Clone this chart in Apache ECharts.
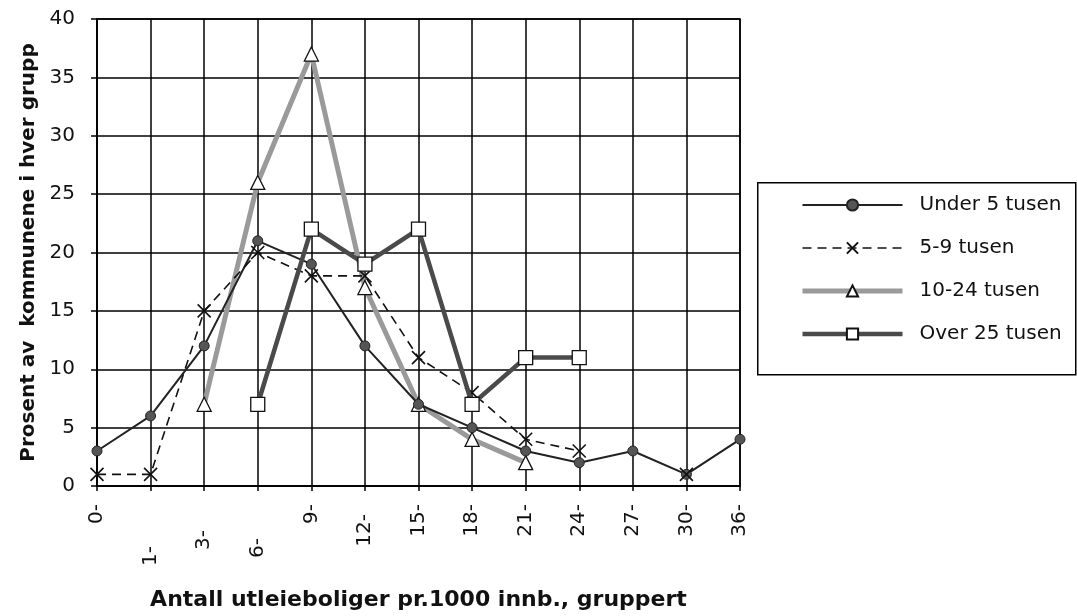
<!DOCTYPE html>
<html>
<head>
<meta charset="utf-8">
<script src="https://cdn.jsdelivr.net/npm/echarts@6/dist/echarts.min.js"></script>
<style>
html,body{margin:0;padding:0;background:#fff;}
#chart{width:1077px;height:616px;}
</style>
</head>
<body>
<div id="chart"></div>
<script>
// ---- data ----
var categories = ['0-','1-','3-','6-','9-','12-','15-','18-','21-','24-','27-','30-','36-'];
var under5   = [3, 6, 12, 21, 19, 12, 7, 5, 3, 2, 3, 1, 4];
var s5to9    = [1, 1, 15, 20, 18, 18, 11, 8, 4, 3, null, 1, null];
var s10to24  = [null, null, 7, 26, 37, 17, 7, 4, 2, null, null, null, null];
var over25   = [null, null, null, 7, 22, 19, 22, 7, 11, 11, null, null, null];
var seriesNames = ['Under 5 tusen', '5-9 tusen', '10-24 tusen', 'Over 25 tusen'];
var yMin = 0, yMax = 40, yStep = 5;

// ---- build ----
var stagger = {'1-': 42, '3-': 26, '6-': 34, '12-': 10};
var catData = categories.map(function (c) {
  var extra = stagger[c] || 0;
  return {value: c, textStyle: {padding: [0, extra, 0, 0]}};
});

var FONT = 'DejaVu Sans';
var xPath = 'path://M0,0L10,10M10,0L0,10';

var chart = echarts.init(document.getElementById('chart'), null, {renderer: 'canvas'});
chart.setOption({
  animation: false,
  backgroundColor: '#ffffff',
  grid: {left: 97, right: 337, top: 19, bottom: 129, show: true, borderColor: '#000', borderWidth: 1.5, containLabel: false},
  graphic: [{
    type: 'rect', left: 757, top: 182, z: 0,
    shape: {width: 318, height: 192},
    style: {fill: '#fff', stroke: '#000', lineWidth: 1.5}
  }],
  legend: {
    orient: 'vertical', left: 795, top: 190,
    itemWidth: 100, itemHeight: 14, itemGap: 23,
    lineStyle: {width: 'inherit'},
    textStyle: {fontFamily: FONT, fontSize: 20, color: '#111', padding: [5, 0, 0, 12]},
    data: seriesNames
  },
  xAxis: {
    type: 'category', data: catData, boundaryGap: false,
    axisLine: {lineStyle: {color: '#000', width: 1.5}},
    axisTick: {show: true, length: 5, lineStyle: {color: '#000', width: 1.5}, alignWithLabel: true},
    axisLabel: {rotate: 90, margin: 18, fontFamily: FONT, fontSize: 20, color: '#111', interval: 0},
    splitLine: {show: true, lineStyle: {color: '#000', width: 1.5}},
    name: 'Antall utleieboliger pr.1000 innb., gruppert',
    nameLocation: 'middle', nameGap: 103,
    nameTextStyle: {fontFamily: FONT, fontSize: 22, fontWeight: 'bold', color: '#111'}
  },
  yAxis: {
    type: 'value', min: yMin, max: yMax, interval: yStep,
    axisLine: {show: true, lineStyle: {color: '#000', width: 1.5}},
    axisTick: {show: true, length: 6, lineStyle: {color: '#000', width: 1.5}},
    axisLabel: {margin: 22, fontFamily: FONT, fontSize: 20, color: '#111'},
    splitLine: {show: true, lineStyle: {color: '#000', width: 1.5}},
    name: 'Prosent av  kommunene i hver grupp',
    nameLocation: 'middle', nameGap: 58, nameRotate: 90,
    nameTextStyle: {fontFamily: FONT, fontSize: 20, fontWeight: 'bold', color: '#111'}
  },
  series: [
    {
      name: seriesNames[0], type: 'line', data: under5, z: 3,
      symbol: 'circle', symbolSize: 10, showAllSymbol: true,
      lineStyle: {color: '#222', width: 2},
      itemStyle: {color: '#555', borderColor: '#222', borderWidth: 1}
    },
    {
      name: seriesNames[1], type: 'line', data: s5to9, z: 4,
      symbol: xPath, symbolSize: 13, showAllSymbol: true,
      lineStyle: {color: '#111', width: 1.6, type: [9, 6]},
      itemStyle: {color: '#fff', borderColor: '#111', borderWidth: 1.6}
    },
    {
      name: seriesNames[2], type: 'line', data: s10to24, z: 2,
      symbol: 'triangle', symbolSize: 14, showAllSymbol: true,
      lineStyle: {color: '#9a9a9a', width: 5},
      itemStyle: {color: '#fff', borderColor: '#111', borderWidth: 1.3}
    },
    {
      name: seriesNames[3], type: 'line', data: over25, z: 5,
      symbol: 'rect', symbolSize: 14, showAllSymbol: true,
      lineStyle: {color: '#4a4a4a', width: 4.5},
      itemStyle: {color: '#fff', borderColor: '#111', borderWidth: 1.3}
    }
  ]
});
</script>
</body>
</html>
